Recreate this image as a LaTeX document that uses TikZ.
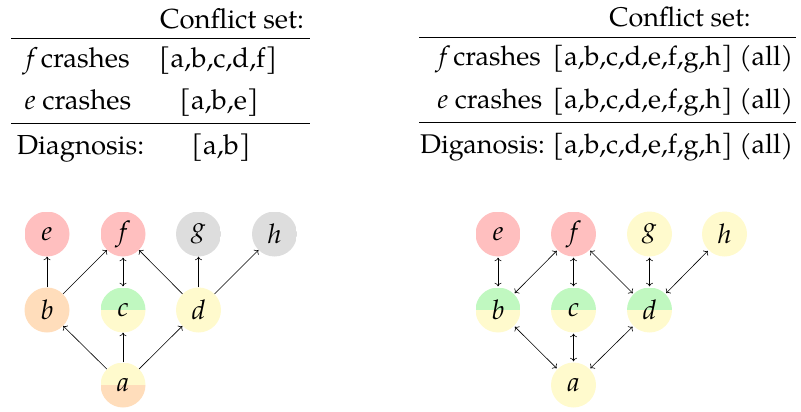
\documentclass[tikz,border=0pt]{standalone}
\usepackage{fontspec}
\setmainfont{TeX Gyre Pagella}
\usetikzlibrary{arrows.meta}
\definecolor{cred}{HTML}{FFBFBF}
\definecolor{cgray}{HTML}{DDDDDD}
\definecolor{cpeach}{HTML}{FFDDBB}
\definecolor{cyel}{HTML}{FFFACD}
\definecolor{cgreen}{HTML}{C0F8C0}
\newcommand{\ev}[1]{{\itshape #1}}
\tikzset{
  nd/.style={circle, minimum size=45pt, inner sep=0pt, font=\fontsize{27}{30}\selectfont\itshape},
  half/.style 2 args={path picture={
    \fill[#1] (path picture bounding box.north west) rectangle (path picture bounding box.east);
    \fill[#2] (path picture bounding box.west) rectangle (path picture bounding box.south east);}},
  ar/.style={-{To[length=3.5pt,width=7pt]}, line width=0.6pt},
  dar/.style={{To[length=3.5pt,width=7pt]}-{To[length=3.5pt,width=7pt]}, line width=0.6pt, shorten >=1pt, shorten <=1pt},
  tl/.style={anchor=base, inner sep=0pt, font=\fontsize{27.5}{30}\selectfont},
  tr/.style={anchor=base, inner sep=0pt, font=\fontsize{27}{30}\selectfont},
  rl/.style={line width=0.9pt},
}
\begin{document}
\begin{tikzpicture}[x=1pt,y=-1pt]
\useasboundingbox (0,0) rectangle (801,412);
% left table
\node[tl] (lh) at (232,29) {Conflict set:};
\node[tl] (l1a) at (78,68) {\ev{f} crashes};
\node[tl] (l1b) at (218,68) {[a,b,c,d,f]};
\node[tl] (l2a) at (78,110) {\ev{e} crashes};
\node[tl] (l2b) at (219,110) {[a,b,e]};
\node[tl] (l3a) at (80.5,154) {Diagnosis:};
\node[tl] (l3b) at (221,154) {[a,b]};
\coordinate (lr1a) at (11,38); \coordinate (lr1b) at (310,38);
\coordinate (lr2a) at (11,123); \coordinate (lr2b) at (310,123);
\draw[rl] (lr1a) -- (lr1b);
\draw[rl] (lr2a) -- (lr2b);
% right table
\node[tr] (rh) at (680,27) {Conflict set:};
\node[tr] (r1a) at (490,66) {\ev{f} crashes};
\node[tr] (r1b) at (673,66) {[a,b,c,d,e,f,g,h] (all)};
\node[tr] (r2a) at (490,109) {\ev{e} crashes};
\node[tr] (r2b) at (673,109) {[a,b,c,d,e,f,g,h] (all)};
\node[tr] (r3a) at (482.5,153) {Diganosis:};
\node[tr] (r3b) at (673,153) {[a,b,c,d,e,f,g,h] (all)};
\coordinate (rr1a) at (419,37); \coordinate (rr1b) at (796,37);
\coordinate (rr2a) at (419,122); \coordinate (rr2b) at (796,122);
\draw[rl] (rr1a) -- (rr1b);
\draw[rl] (rr2a) -- (rr2b);
% left graph
\node[nd, half={cred}{cred}] (le) at (47,234) {e};
\node[nd, half={cred}{cred}] (lf) at (123,234) {f};
\node[nd, half={cgray}{cgray}] (lg) at (198.5,234) {g};
\node[nd, half={cgray}{cgray}] (lh2) at (274.5,234) {h};
\node[nd, fill=cpeach] (lb) at (47,310) {b};
\node[nd, half={cgreen}{cyel}] (lc) at (123,310) {c};
\node[nd, fill=cyel] (ld) at (198.5,310) {d};
\node[nd, half={cyel}{cpeach}] (la) at (123,385) {a};
\draw[ar] (lb) -- (le);
\draw[ar] (lb) -- (lf);
\draw[dar] (lc) -- (lf);
\draw[ar] (ld) -- (lf);
\draw[ar] (ld) -- (lg);
\draw[ar] (ld) -- (lh2);
\draw[ar] (la) -- (lb);
\draw[ar] (la) -- (lc);
\draw[ar] (la) -- (ld);
% right graph
\node[nd, half={cred}{cred}] (re) at (498,234) {e};
\node[nd, half={cred}{cred}] (rf) at (573.5,234) {f};
\node[nd, fill=cyel] (rg) at (649.5,234) {g};
\node[nd, fill=cyel] (rh2) at (724.5,234) {h};
\node[nd, half={cgreen}{cyel}] (rb) at (498,310) {b};
\node[nd, half={cgreen}{cyel}] (rc) at (573.5,310) {c};
\node[nd, half={cgreen}{cyel}] (rd) at (649.5,310) {d};
\node[nd, fill=cyel] (ra) at (573.5,385) {a};
\draw[dar] (re) -- (rb);
\draw[dar] (rf) -- (rb);
\draw[dar] (rf) -- (rc);
\draw[dar] (rf) -- (rd);
\draw[dar] (rg) -- (rd);
\draw[dar] (rh2) -- (rd);
\draw[dar] (ra) -- (rb);
\draw[dar] (ra) -- (rc);
\draw[dar] (ra) -- (rd);
\end{tikzpicture}
\end{document}
